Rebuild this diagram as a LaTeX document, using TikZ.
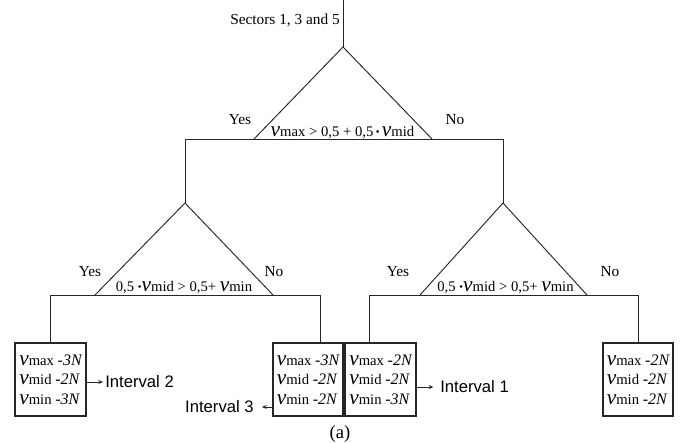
\documentclass[tikz,border=0pt]{standalone}
\usepackage{fontspec}
\setmainfont{Liberation Serif}
\newfontfamily\ivsans{Liberation Sans}
\usetikzlibrary{arrows.meta}
\newcommand{\vv}[1]{{\fontsize{16}{16}\selectfont\itshape v}{\fontsize{11}{11}\selectfont #1}}
\newcommand{\nn}[1]{{\fontsize{12}{12}\selectfont\itshape #1}}
\newcommand{\bul}{{\fontsize{8}{8}\selectfont\raisebox{0.6pt}{•}}}
\begin{document}
\begin{tikzpicture}[x=0.75pt,y=-0.75pt,
  ln/.style={draw=black!85, line width=0.7pt},
  outbox/.style={draw=black!85, line width=0.9pt, rectangle, minimum height=54.75pt,
     align=left, inner sep=1pt, font=\fontsize{11}{14.6}\selectfont},
  lbl/.style={font=\fontsize{11.5}{12}\selectfont, inner sep=0pt},
  cond/.style={font=\fontsize{11}{11}\selectfont, inner sep=0pt},
  ivl/.style={font=\ivsans\fontsize{12.5}{13}\selectfont, inner sep=0pt},
  arr/.style={draw=black!85, line width=0.6pt, -{Stealth[length=3.5pt,width=3pt]}}
]
\useasboundingbox (0,0) rectangle (683,443);
% coordinates
\coordinate (top) at (343,0);
\coordinate (a1) at (343,47);
\coordinate (b1l) at (254,139);
\coordinate (b1r) at (432,139);
\coordinate (h1l) at (185,139);
\coordinate (h1r) at (503,139);
\coordinate (a2) at (185,203);
\coordinate (b2l) at (95,295);
\coordinate (b2r) at (273,295);
\coordinate (h2l) at (50,295);
\coordinate (h2r) at (320,295);
\coordinate (a3) at (503,203);
\coordinate (b3l) at (420,295);
\coordinate (b3r) at (587,295);
\coordinate (h3l) at (369,295);
\coordinate (h3r) at (638,295);
% tree lines
\draw[ln] (top) -- (a1);
\draw[ln] (b1l) -- (a1) -- (b1r);
\draw[ln] (h1l) -- (h1r);
\draw[ln] (h1l) -- (a2);
\draw[ln] (h1r) -- (a3);
\draw[ln] (b2l) -- (a2) -- (b2r);
\draw[ln] (h2l) -- (h2r);
\draw[ln] (b3l) -- (a3) -- (b3r);
\draw[ln] (h3l) -- (h3r);
% boxes
\node[outbox, minimum width=53.25pt] (bx1) at (50.5,379.5)
  {\vv{max} \nn{-3N}\\ \vv{mid} \nn{-2N}\\ \vv{min} \nn{-3N}};
\node[outbox, minimum width=52.5pt] (bx2) at (308,379.5)
  {\vv{max} \nn{-3N}\\ \vv{mid} \nn{-2N}\\ \vv{min} \nn{-2N}};
\node[outbox, minimum width=53.25pt] (bx3) at (380.5,379.5)
  {\vv{max} \nn{-2N}\\ \vv{mid} \nn{-2N}\\ \vv{min} \nn{-3N}};
\node[outbox, minimum width=52.5pt] (bx4) at (638,379.5)
  {\vv{max} \nn{-2N}\\ \vv{mid} \nn{-2N}\\ \vv{min} \nn{-2N}};
\draw[ln] (h2l) -- (h2l |- bx1.north);
\draw[ln] (h2r) -- (h2r |- bx2.north);
\draw[ln] (h3l) -- (h3l |- bx3.north);
\draw[ln] (h3r) -- (h3r |- bx4.north);
% labels
\node[lbl, anchor=base east] (sec) at (340,24) {Sectors 1, 3 and 5};
\node[lbl] (y1) at (240,120) {Yes};
\node[lbl] (n1) at (455,120) {No};
\node[cond, anchor=base] (c1) at (342.5,136) {\vv{max} > 0,5 + 0,5\,\bul\,\vv{mid}};
\node[lbl] (y2) at (90,272) {Yes};
\node[lbl] (n2) at (274,272) {No};
\node[cond, anchor=base] (c2) at (184,291) {0,5 \bul\vv{mid} > 0,5+ \vv{min}};
\node[lbl] (y3) at (398,272) {Yes};
\node[lbl] (n3) at (610,272) {No};
\node[cond, anchor=base] (c3) at (505.5,291) {0,5 \bul\vv{mid} > 0,5+ \vv{min}};
% intervals
\node[ivl, anchor=west] (i2) at (105,382) {Interval 2};
\node[ivl, anchor=west] (i1) at (440,387) {Interval 1};
\node[ivl, anchor=east] (i3) at (254,407) {Interval 3};
\draw[arr] (bx1.east |- i2.west) -- ([xshift=-1.5pt]i2.west);
\draw[arr] (bx3.east |- i1.west) -- ([xshift=-5pt]i1.west);
\draw[arr] (bx2.west |- i3.east) -- ([xshift=6pt]i3.east);
\node[font=\fontsize{14}{14}\selectfont, inner sep=0pt] (cap) at (340,434) {(a)};
\end{tikzpicture}
\end{document}
